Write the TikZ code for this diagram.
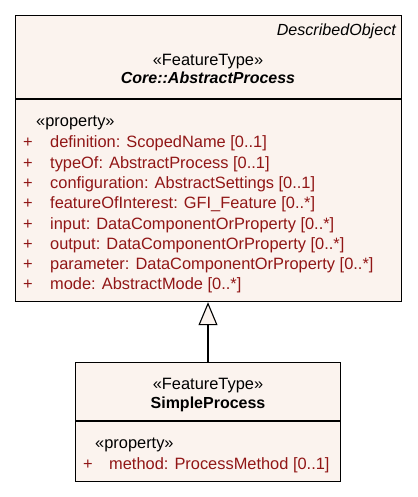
\documentclass[tikz,border=0pt]{standalone}
\usepackage{fontspec}
\setmainfont{Liberation Sans}
\usetikzlibrary{arrows.meta}
\definecolor{cream}{RGB}{251,243,238}
\definecolor{attr}{RGB}{145,22,22}
\tikzset{
  box/.style={draw=black, line width=1.2pt, fill=cream, inner sep=0pt, anchor=north west},
  divider/.style={line width=1.2pt},
  txt/.style={inner sep=0pt, anchor=base west, font=\fontsize{16.4}{19}\selectfont},
  ctxt/.style={inner sep=0pt, anchor=base, font=\fontsize{16.4}{19}\selectfont},
  rtxt/.style={inner sep=0pt, anchor=base east, font=\fontsize{16.1}{19}\selectfont\itshape},
  atxt/.style={txt, text=attr},
  gen/.style={line width=1.1pt, -{Triangle[length=23pt, width=19pt, fill=cream]}}
}
\begin{document}
\begin{tikzpicture}[x=1pt, y=-1pt]
\useasboundingbox (0,0) rectangle (417,497);
% top class
\node[box, minimum width=386pt, minimum height=286pt] (abs) at (15,15) {};
\coordinate (absdivL) at (15,99);
\coordinate (absdivR) at (401,99);
\draw[divider] (absdivL) -- (absdivR);
\node[rtxt] (absparent) at (396,36) {DescribedObject};
\node[ctxt] (absst) at (208,66) {«FeatureType»};
\node[ctxt, font=\fontsize{16}{19}\selectfont\bfseries\itshape] (absname) at (208,84) {Core::AbstractProcess};
\node[txt] (absprop) at (36,127) {«property»};
\foreach \y/\t [count=\i] in {148/{definition: ScopedName [0..1]},
  168/{typeOf: AbstractProcess [0..1]},
  188/{configuration: AbstractSettings [0..1]},
  208/{featureOfInterest: GFI\_Feature [0..*]},
  229/{input: DataComponentOrProperty [0..*]},
  249/{output: DataComponentOrProperty [0..*]},
  269/{parameter: DataComponentOrProperty [0..*]},
  289/{mode: AbstractMode [0..*]}}{
  \node[atxt] (absplus\i) at (23,\y) {+};
  \node[atxt] (absattr\i) at (50,\y) {\t};
}
% bottom class
\node[box, minimum width=265pt, minimum height=119pt] (sp) at (75,362) {};
\coordinate (spdivL) at (75,421);
\coordinate (spdivR) at (340,421);
\draw[divider] (spdivL) -- (spdivR);
\node[ctxt] (spst) at (208,389) {«FeatureType»};
\node[ctxt, font=\fontsize{16}{19}\selectfont\bfseries] (spname) at (208,408) {SimpleProcess};
\node[txt] (spprop) at (95,448) {«property»};
\node[atxt] (spplus) at (83,469) {+};
\node[atxt] (spattr) at (109,469) {method: ProcessMethod [0..1]};
% generalization
\draw[gen] (sp.north -| 208,0) -- (abs.south -| 208,0);
\end{tikzpicture}
\end{document}
